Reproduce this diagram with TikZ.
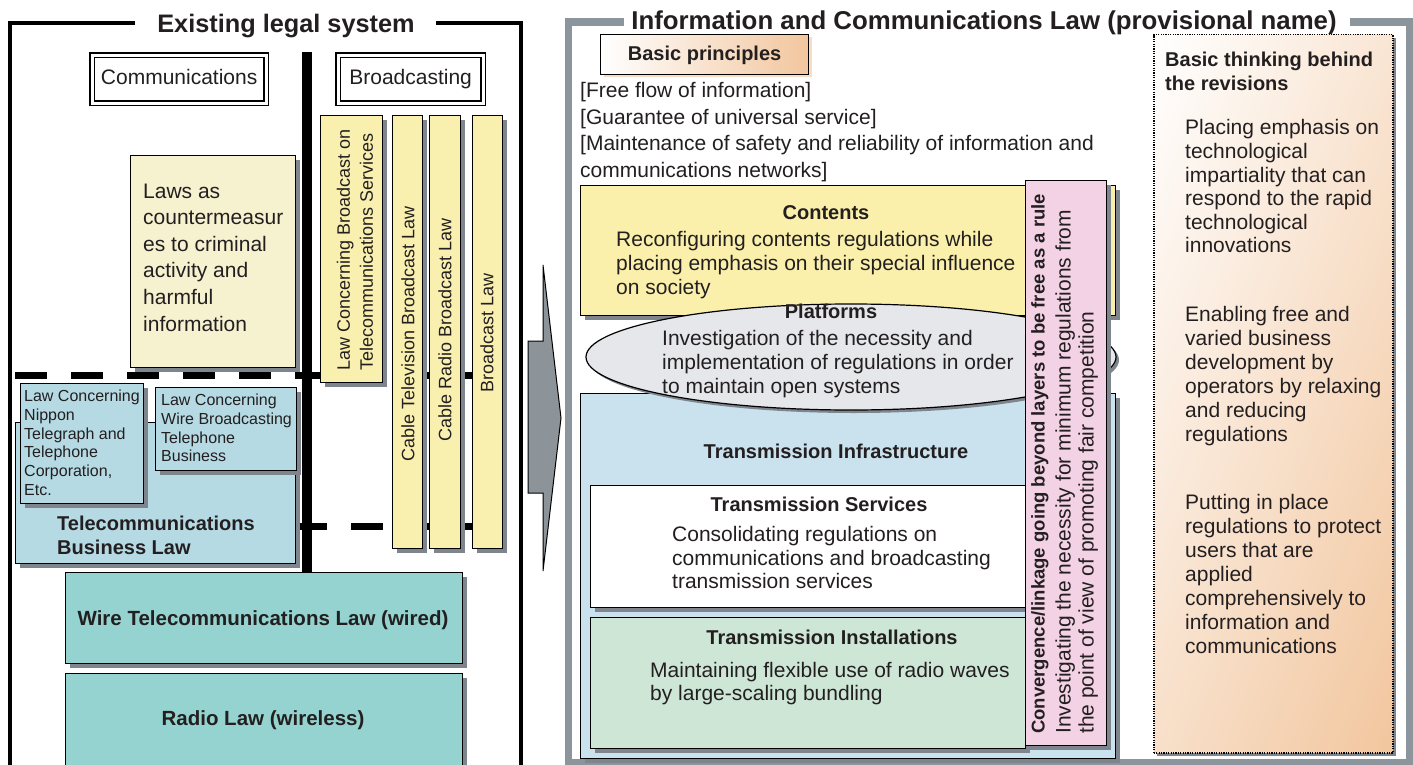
\documentclass[tikz,border=0pt]{standalone}
\usepackage{fontspec}
\setmainfont{Liberation Sans}
\usetikzlibrary{shapes.geometric,shadows,shadings}
\definecolor{txt}{HTML}{231F20}
\definecolor{shgrey}{HTML}{7E858C}
\definecolor{ylw}{HTML}{F9F0B0}
\definecolor{cream}{HTML}{F6F2D0}
\definecolor{ltblue}{HTML}{B5DAE4}
\definecolor{teal}{HTML}{94D3CF}
\definecolor{cyellow}{HTML}{FAF0AC}
\definecolor{infra}{HTML}{C9E2EE}
\definecolor{grn}{HTML}{CDE6D6}
\definecolor{pnk}{HTML}{F2D2E4}
\definecolor{ellgrey}{HTML}{E6E7EB}
\definecolor{peach}{HTML}{F2C69E}
\definecolor{framegrey}{HTML}{8D959C}
\definecolor{arrowgrey}{HTML}{8C9399}
\tikzset{
 every node/.style={text=txt, inner sep=0pt},
 box/.style={draw=black, line width=1.2pt, anchor=north west, inner sep=0pt,
   general shadow={fill=shgrey, shadow xshift=4.5pt, shadow yshift=-4.5pt}},
 body/.style={font=\fontsize{21}{26.5}\selectfont, align=left, anchor=north west},
 bhead/.style={font=\bfseries\fontsize{20}{24}\selectfont, anchor=base},
 small/.style={font=\fontsize{16}{18.9}\selectfont, align=left, anchor=north west},
 vtxt/.style={rotate=90, font=\fontsize{18}{23}\selectfont, align=left},
 dbl/.style={draw=black, double=white, double distance=3.2pt, line width=1.3pt, inner sep=0pt},
 dashline/.style={line width=7pt, dash pattern=on 32pt off 24pt},
}
\begin{document}
\begin{tikzpicture}[x=1pt,y=-1pt]
\useasboundingbox (0,0) rectangle (1413,765);
\fill[white] (0,0) rectangle (1413,765);

% ---------------- Left: existing legal system ----------------
\draw[line width=3.5pt] (135,23) -- (10,23) -- (10,775);
\draw[line width=3.5pt] (436,23) -- (521,23) -- (521,775);
\node[font=\bfseries\fontsize{25.3}{30}\selectfont, anchor=base] (ttlA) at (286,33) {Existing legal system};

\node[dbl, minimum width=174pt, minimum height=48pt, anchor=north west] (comm) at (91.5,54.5) {};
\node[font=\fontsize{21}{26}\selectfont, anchor=base] (commt) at (comm.center |- 0,84.5) {Communications};
\node[dbl, minimum width=145pt, minimum height=48pt, anchor=north west] (broad) at (337.5,54.5) {};
\node[font=\fontsize{21}{26}\selectfont, anchor=base] (broadt) at (broad.center |- 0,84.5) {Broadcasting};

% dashed layer lines
\coordinate (d1a) at (15,375); \coordinate (d1b) at (472,375);
\coordinate (d2a) at (15,526); \coordinate (d2b) at (472,526);
\draw[dashline] (d1a) -- (d1b);
\draw[dashline] (d2a) -- (d2b);

% vertical divider
\fill[black] (302,52) rectangle (312,572);

% laws as countermeasures
\node[box, fill=cream, minimum width=165pt, minimum height=212pt] (laws) at (130,155) {};
\node[body, font=\fontsize{21}{26.6}\selectfont] (lawst) at (143,183.5) {Laws as\\countermeasur\\es to criminal\\activity and\\harmful\\information};

% broadcasting laws
\node[box, fill=ylw, minimum width=62pt, minimum height=267pt] (y1) at (320,115) {};
\node[box, fill=ylw, minimum width=30pt, minimum height=433pt] (y2) at (392,115) {};
\node[box, fill=ylw, minimum width=31pt, minimum height=433pt] (y3) at (429,115) {};
\node[box, fill=ylw, minimum width=30pt, minimum height=433pt] (y4) at (472,115) {};
\node[vtxt] (y1t) at (355,250) {Law Concerning Broadcast on\\Telecommunications Services};
\node[vtxt] (y2t) at (408,334) {Cable Television Broadcast Law};
\node[vtxt] (y3t) at (445,330) {Cable Radio Broadcast Law};
\node[vtxt] (y4t) at (487,333) {Broadcast Law};

% telecommunications business
\node[box, fill=ltblue, minimum width=280pt, minimum height=141pt] (tbl) at (15,422) {};
\node[font=\bfseries\fontsize{20}{23.5}\selectfont, align=left, anchor=north west] (tblt) at (57,516) {Telecommunications\\Business Law};
\node[box, fill=ltblue, minimum width=123pt, minimum height=120pt] (ntt) at (20,383) {};
\node[small] (nttt) at (24,389.5) {Law Concerning\\Nippon\\Telegraph and\\Telephone\\Corporation,\\Etc.};
\node[box, fill=ltblue, minimum width=141pt, minimum height=83pt] (wbt) at (155,387) {};
\node[small] (wbtt) at (161,393.5) {Law Concerning\\Wire Broadcasting\\Telephone\\Business};

% wire / radio
\node[box, fill=teal, minimum width=397pt, minimum height=91pt] (wire) at (65,572) {};
\node[font=\bfseries\fontsize{20.5}{24}\selectfont, anchor=base] (wiret) at (263,625.5) {Wire Telecommunications Law (wired)};
\node[box, fill=teal, minimum width=397pt, minimum height=100pt] (radio) at (65,673) {};
\node[font=\bfseries\fontsize{20.5}{24}\selectfont, anchor=base] (radiot) at (263,725.5) {Radio Law (wireless)};

% ---------------- Arrow ----------------
\draw[fill=arrowgrey, line width=1pt, line join=miter] (528,341) -- (543,341) -- (543,265) -- (561,418) -- (543,571) -- (543,493) -- (528,493) -- cycle;

% ---------------- Right: new law ----------------
\draw[framegrey, line width=7.5pt] (624,22) -- (568.5,22) -- (568.5,763) -- (1410,763) -- (1410,22) -- (1350,22);
\node[font=\bfseries\fontsize{25.8}{30}\selectfont, anchor=base] (ttlB) at (984,30) {Information and Communications Law (provisional name)};

\node[draw=black, line width=1.2pt, anchor=north west, minimum width=208pt, minimum height=40pt, left color=white, right color=peach,
  general shadow={fill=peach!60, shadow xshift=3pt, shadow yshift=-2pt}] (bp) at (600,34) {};
\node[bhead] (bpt) at (bp.center |- 0,61) {Basic principles};
\node[body] (prin) at (580,82.5) {{[}Free flow of information{]}\\{[}Guarantee of universal service{]}\\{[}Maintenance of safety and reliability of information and\\communications networks{]}};

% contents
\node[box, fill=cyellow, minimum width=535pt, minimum height=130pt] (cont) at (580,185) {};
\node[bhead] (contt) at (826,219) {Contents};
\node[body, font=\fontsize{21}{24}\selectfont] (contb) at (616,231.5) {Reconfiguring contents regulations while\\placing emphasis on their special influence\\on society};

% transmission infrastructure
\node[box, fill=infra, minimum width=535pt, minimum height=365pt] (infra) at (580,393) {};
\node[bhead] (infrat) at (836,458) {Transmission Infrastructure};

% platforms
\node[ellipse, draw=black, line width=1.2pt, fill=ellgrey, minimum width=530pt, minimum height=106pt,
  general shadow={fill=shgrey, shadow xshift=3pt, shadow yshift=-3pt}] (plat) at (851,357) {};
\node[bhead] (platt) at (831,318) {Platforms};
\node[body, font=\fontsize{21}{24}\selectfont] (platb) at (662,330.5) {Investigation of the necessity and\\implementation of regulations in order\\to maintain open systems};

% transmission services
\node[box, fill=white, minimum width=435pt, minimum height=122pt] (serv) at (590,485) {};
\node[bhead] (servt) at (819,511) {Transmission Services};
\node[body, font=\fontsize{21}{23.5}\selectfont] (servb) at (672,526.5) {Consolidating regulations on\\communications and broadcasting\\transmission services};

% transmission installations
\node[box, fill=grn, minimum width=435pt, minimum height=131pt] (inst) at (590,617) {};
\node[bhead] (instt) at (832,644) {Transmission Installations};
\node[body, font=\fontsize{21}{23}\selectfont] (instb) at (650,662.5) {Maintaining flexible use of radio waves\\by large-scaling bundling};

% convergence / linkage
\node[box, fill=pnk, minimum width=81pt, minimum height=565pt] (conv) at (1025,180) {};
\node[rotate=90, anchor=north west, align=left, font=\fontsize{21}{23}\selectfont] (convt) at (1031,734)
 {{\bfseries\fontsize{18.5}{23}\selectfont Convergence/linkage going beyond layers to be free as a rule}\\[3pt]
  Investigating the necessity for minimum regulations from\\the point of view of promoting fair competition};

% basic thinking
\node[draw=black, line width=1.5pt, dash pattern=on 1.2pt off 1.2pt, anchor=north west, minimum width=239pt, minimum height=718pt,
  upper left=white, upper right=peach!45, lower left=peach!55, lower right=peach,
  general shadow={fill=shgrey, shadow xshift=3pt, shadow yshift=-3pt}] (bt) at (1153,34) {};
\node[font=\bfseries\fontsize{20}{24}\selectfont, align=left, anchor=north west] (btt) at (1165,51.8) {Basic thinking behind\\the revisions};
\node[body, font=\fontsize{21}{23.6}\selectfont] (bt1) at (1185,119.5) {Placing emphasis on\\technological\\impartiality that can\\respond to the rapid\\technological\\innovations};
\node[body, font=\fontsize{21}{24}\selectfont] (bt2) at (1185,306.5) {Enabling free and\\varied business\\development by\\operators by relaxing\\and reducing\\regulations};
\node[body, font=\fontsize{21}{24}\selectfont] (bt3) at (1185,494.5) {Putting in place\\regulations to protect\\users that are\\applied\\comprehensively to\\information and\\communications};
\end{tikzpicture}
\end{document}
